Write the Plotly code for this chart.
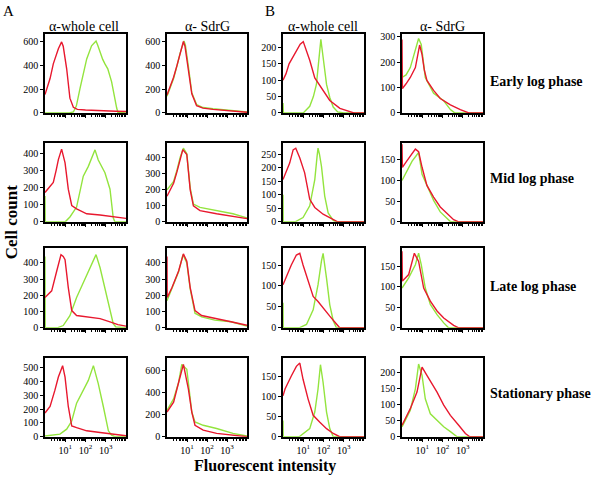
import plotly.graph_objects as go

W, H = 592, 481

# ---------------- data: (log10 intensity, cell count) pairs ----------------
# Row 1: Early log phase
early_wcA_red = [(0,154),(0.25,289),(0.41,412),(0.58,509),(0.66,540),(0.82,597),(0.9,560),(1.07,371),(1.23,124),(1.4,47),(1.6,30),(2.0,25),(2.5,20),(3.0,18),(3.5,14),(4.0,12)]
early_wcA_green = [(0,0),(1.2,0),(1.4,8),(1.55,60),(1.73,206),(1.9,330),(2.06,454),(2.3,564),(2.52,605),(2.6,570),(2.72,509),(2.85,450),(2.96,412),(3.1,370),(3.29,261),(3.45,110),(3.54,41),(3.6,5),(4.0,0)]
early_sdA_red = [(0,150),(0.33,300),(0.5,400),(0.66,500),(0.82,600),(0.9,560),(1.07,380),(1.24,160),(1.48,60),(1.8,40),(2.3,30),(2.8,25),(3.3,15),(3.7,10),(4.0,5)]
early_sdA_green = [(0,140),(0.33,290),(0.5,395),(0.66,505),(0.85,605),(0.92,570),(1.07,390),(1.24,170),(1.48,70),(1.8,45),(2.3,35),(2.8,28),(3.3,20),(3.7,12),(4.0,8)]
early_wcB_red = [(0,100),(0.15,120),(0.3,150),(0.6,185),(0.85,210),(1.0,218),(1.1,200),(1.32,161),(1.57,107),(1.98,68),(2.31,38),(2.81,14),(3.3,3),(3.5,0),(4,0)]
early_wcB_green = [(0,30),(0.02,0),(1.0,0),(1.32,20),(1.5,50),(1.65,87),(1.75,150),(1.82,185),(1.87,225),(1.92,200),(1.98,170),(2.15,87),(2.31,47),(2.48,18),(2.7,3),(3,0),(4,0)]
early_sdB_red = [(0,290),(0.02,96),(0.2,115),(0.41,140),(0.66,179),(0.8,240),(0.87,268),(0.99,230),(1.1,170),(1.23,128),(1.56,89),(1.89,57),(2.39,32),(2.88,13),(3.3,0),(4,0)]
early_sdB_green = [(0,140),(0.2,150),(0.41,179),(0.6,230),(0.75,280),(0.82,294),(0.95,270),(1.05,200),(1.15,140),(1.56,77),(2.06,48),(2.39,13),(2.6,0),(4,0)]

# Row 2: Mid log phase
mid_wcA_red = [(0,171),(0.2,200),(0.41,229),(0.55,300),(0.66,362),(0.82,423),(0.99,343),(1.15,190),(1.32,95),(1.56,76),(2.06,47),(2.72,40),(3.37,28),(4,20)]
mid_wcA_green = [(0,150),(0.01,0),(1.0,0),(1.23,28),(1.56,86),(1.72,170),(1.89,266),(2.14,323),(2.3,370),(2.47,419),(2.63,360),(2.96,286),(3.21,190),(3.3,100),(3.37,23),(3.45,0),(4,0)]
mid_sdA_red = [(0,158),(0.33,238),(0.5,310),(0.66,396),(0.79,446),(0.99,416),(1.16,198),(1.32,99),(1.65,69),(2.48,50),(3.3,36),(4,20)]
mid_sdA_green = [(0,198),(0.33,250),(0.5,320),(0.66,400),(0.82,455),(0.99,420),(1.16,210),(1.32,110),(1.65,89),(2.48,69),(3.0,55),(3.3,50),(4,24)]
mid_wcB_red = [(0,156),(0.33,217),(0.5,266),(0.63,272),(0.83,236),(1.07,181),(1.32,83),(1.57,53),(1.98,28),(2.48,10),(2.7,0),(4,0)]
mid_wcB_green = [(0,100),(0.01,0),(0.6,0),(0.99,16),(1.32,59),(1.57,156),(1.68,240),(1.73,272),(1.8,250),(1.9,205),(2.06,95),(2.23,33),(2.48,5),(2.6,0),(4,0)]
mid_sdB_red = [(0,188),(0.02,132),(0.25,148),(0.49,164),(0.66,176),(0.82,170),(0.99,132),(1.23,88),(1.56,60),(1.89,36),(2.22,20),(2.55,5),(2.8,0),(4,0)]
mid_sdB_green = [(0,100),(0.25,125),(0.5,147),(0.7,160),(0.82,168),(0.99,115),(1.23,88),(1.56,52),(1.89,24),(2.22,8),(2.4,0),(4,0)]

# Row 3: Late log phase
late_wcA_red = [(0,187),(0.33,228),(0.58,350),(0.79,451),(0.9,440),(0.99,420),(1.15,248),(1.32,106),(1.56,76),(2.06,67),(2.72,57),(3.21,37),(3.6,20),(4,10)]
late_wcA_green = [(0,440),(0.01,0),(0.6,0),(0.9,14),(1.23,75),(1.56,187),(1.89,278),(2.22,370),(2.52,451),(2.72,370),(2.96,248),(3.21,106),(3.37,25),(3.5,5),(4,0)]
late_sdA_red = [(0,440),(0.01,187),(0.25,248),(0.58,350),(0.82,456),(0.99,410),(1.16,248),(1.4,106),(1.73,76),(2.39,57),(3.2,37),(4,16)]
late_sdA_green = [(0,167),(0.25,240),(0.58,345),(0.8,451),(0.99,400),(1.16,240),(1.4,90),(1.73,67),(2.39,47),(3.2,37),(4,10)]
late_wcB_red = [(0,103),(0.1,115),(0.41,150),(0.66,174),(0.83,178),(0.99,150),(1.24,111),(1.49,75),(1.73,63),(1.98,47),(2.31,28),(2.64,9),(2.8,0),(4,0)]
late_wcB_green = [(0,60),(0.01,0),(0.8,0),(1.16,8),(1.49,43),(1.73,103),(1.9,160),(1.98,178),(2.15,118),(2.31,55),(2.48,17),(2.64,0),(4,0)]
late_sdB_red = [(0,187),(0.02,114),(0.33,130),(0.49,158),(0.61,182),(0.82,162),(1.07,97),(1.4,65),(1.73,41),(2.06,24),(2.55,6),(2.8,0),(4,0)]
late_sdB_green = [(0,97),(0.33,122),(0.66,154),(0.82,182),(0.95,154),(1.15,97),(1.4,57),(1.73,32),(2.06,12),(2.3,0),(4,0)]

# Row 4: Stationary phase
stat_wcA_red = [(0,173),(0.25,220),(0.49,339),(0.66,434),(0.87,517),(0.99,434),(1.15,220),(1.32,78),(1.56,66),(2.06,43),(2.72,31),(3.37,19),(4,7)]
stat_wcA_green = [(0,5),(0.74,19),(1.07,55),(1.32,114),(1.56,244),(1.89,339),(2.14,410),(2.39,517),(2.63,386),(2.88,220),(3.13,43),(3.29,12),(3.45,0),(4,0)]
stat_sdA_red = [(0,222),(0.33,310),(0.58,488),(0.82,651),(1.07,429),(1.24,222),(1.4,103),(1.81,59),(2.48,30),(3.3,15),(4,0)]
stat_sdA_green = [(0,236),(0.33,340),(0.58,488),(0.74,650),(0.99,606),(1.24,222),(1.4,133),(1.81,103),(2.48,74),(3.3,30),(4,6)]
stat_wcB_red = [(0,101),(0.1,118),(0.41,150),(0.66,174),(0.83,182),(0.99,142),(1.24,93),(1.49,53),(1.82,36),(2.15,20),(2.48,8),(2.8,0),(4,0)]
stat_wcB_green = [(0,40),(0.01,0),(0.8,0),(1.32,20),(1.57,61),(1.73,118),(1.85,178),(1.98,134),(2.15,61),(2.31,20),(2.48,0),(4,0)]
stat_sdB_red = [(0,36),(0.1,50),(0.41,88),(0.74,140),(0.99,218),(1.23,192),(1.48,166),(1.73,140),(2.06,99),(2.39,67),(2.8,36),(3.13,10),(3.35,0),(4,0)]
stat_sdB_green = [(0,31),(0.41,83),(0.66,150),(0.82,228),(0.99,192),(1.15,119),(1.4,72),(1.73,52),(2.06,31),(2.39,16),(2.72,0),(4,0)]

# y-axis tick values per panel (row-major)
yticks = [
    [0,200,400,600], [0,200,400,600], [0,50,100,150,200], [0,100,200,300],
    [0,100,200,300,400], [0,100,200,300,400], [0,50,100,150,200,250], [0,50,100,150],
    [0,100,200,300,400], [0,100,200,300,400], [0,50,100,150], [0,50,100,150],
    [0,100,200,300,400,500], [0,200,400,600], [0,50,100,150], [0,50,100,150,200],
]
x_tick_vals = [10, 100, 1000]
x_tick_text = ["10<sup>1</sup>", "10<sup>2</sup>", "10<sup>3</sup>"]
column_titles = ["α-whole cell", "α- SdrG", "α-whole cell", "α- SdrG"]
row_labels = ["Early log phase", "Mid log phase", "Late log phase", "Stationary phase"]

curves = [
    (early_wcA_red, early_wcA_green), (early_sdA_red, early_sdA_green), (early_wcB_red, early_wcB_green), (early_sdB_red, early_sdB_green),
    (mid_wcA_red, mid_wcA_green), (mid_sdA_red, mid_sdA_green), (mid_wcB_red, mid_wcB_green), (mid_sdB_red, mid_sdB_green),
    (late_wcA_red, late_wcA_green), (late_sdA_red, late_sdA_green), (late_wcB_red, late_wcB_green), (late_sdB_red, late_sdB_green),
    (stat_wcA_red, stat_wcA_green), (stat_sdA_red, stat_sdA_green), (stat_wcB_red, stat_wcB_green), (stat_sdB_red, stat_sdB_green),
]

# ---------------- layout geometry (pixels) ----------------
col_px = [(45, 126), (167, 247), (283, 364), (402, 483)]
row_px = [(32, 112), (143, 223), (250, 331), (362, 442)]
ymax = [660, 660, 240, 310,
        457, 485, 290, 190,
        490, 490, 190, 194,
        571, 706, 194, 246]

RED = "#E8182E"
GREEN = "#93E43E"
SERIF = "Liberation Serif"

def fx(px):
    return px / W

def fy(py):
    return 1 - py / H

minor_vals = [m * 10 ** k for k in range(0, 4) for m in range(2, 10)]

fig = go.Figure()
layout = dict(
    width=W, height=H, autosize=False,
    margin=dict(l=0, r=0, t=0, b=0),
    paper_bgcolor="white", plot_bgcolor="white",
    showlegend=False,
    font=dict(family=SERIF, color="black"),
)

for i, (red, green) in enumerate(curves):
    r, c = divmod(i, 4)
    n = i + 1
    xa = "x" if n == 1 else f"x{n}"
    ya = "y" if n == 1 else f"y{n}"
    for series, color in ((green, GREEN), (red, RED)):
        fig.add_trace(go.Scatter(
            x=[10 ** d for d, _ in series], y=[v for _, v in series],
            mode="lines", line=dict(color=color, width=1.4),
            xaxis=xa, yaxis=ya, hoverinfo="skip",
        ))
    x0, x1 = col_px[c]
    y0, y1 = row_px[r]
    layout["xaxis" if n == 1 else f"xaxis{n}"] = dict(
        type="log", range=[0, 4],
        domain=[fx(x0), fx(x1)], anchor=ya,
        tickmode="array", tickvals=x_tick_vals, ticktext=x_tick_text,
        showticklabels=(r == 3),
        ticks="outside", ticklen=3, tickwidth=1, tickcolor="black",
        minor=dict(tickmode="array", tickvals=minor_vals, ticks="outside",
                   ticklen=2, tickwidth=1, tickcolor="black"),
        tickfont=dict(family=SERIF, size=10, color="black"),
        showline=True, mirror=True, linecolor="black", linewidth=1.6,
        showgrid=False, zeroline=False, fixedrange=True,
    )
    layout["yaxis" if n == 1 else f"yaxis{n}"] = dict(
        range=[0, ymax[i]],
        domain=[fy(y1), fy(y0)], anchor=xa,
        tickmode="array", tickvals=yticks[i],
        ticks="outside", ticklen=3, tickwidth=1, tickcolor="black",
        tickfont=dict(family=SERIF, size=10, color="black"),
        showline=True, mirror=True, linecolor="black", linewidth=1.6,
        showgrid=False, zeroline=False, fixedrange=True,
    )

ann = []
ann.append(dict(text="A", x=fx(1), y=fy(8), xanchor="left", yanchor="middle",
                font=dict(family=SERIF, size=15)))
ann.append(dict(text="B", x=fx(263), y=fy(8), xanchor="left", yanchor="middle",
                font=dict(family=SERIF, size=15)))
for cx, t in zip([84, 207, 323, 442], column_titles):
    ann.append(dict(text=t, x=fx(cx), y=fy(24), xanchor="center", yanchor="middle",
                    font=dict(family=SERIF, size=14)))
for cy, t in zip([80, 179, 289, 398], row_labels):
    ann.append(dict(text=f"<b>{t}</b>", x=fx(488), y=fy(cy), xanchor="left", yanchor="middle",
                    font=dict(family=SERIF, size=14)))
ann.append(dict(text="<b>Cell count</b>", x=fx(0), y=fy(224), xanchor="left", yanchor="middle",
                textangle=-90, font=dict(family=SERIF, size=17)))
ann.append(dict(text="<b>Fluorescent intensity</b>", x=fx(265), y=fy(472), xanchor="center",
                yanchor="middle", font=dict(family=SERIF, size=16)))
for a in ann:
    a.update(xref="paper", yref="paper", showarrow=False)
layout["annotations"] = ann

fig.update_layout(**layout)
# remove the browser's default page margin so the figure sits at the window origin
fig.write_html("out.html", config={"displayModeBar": False},
               post_script="document.body.style.margin='0px';")
